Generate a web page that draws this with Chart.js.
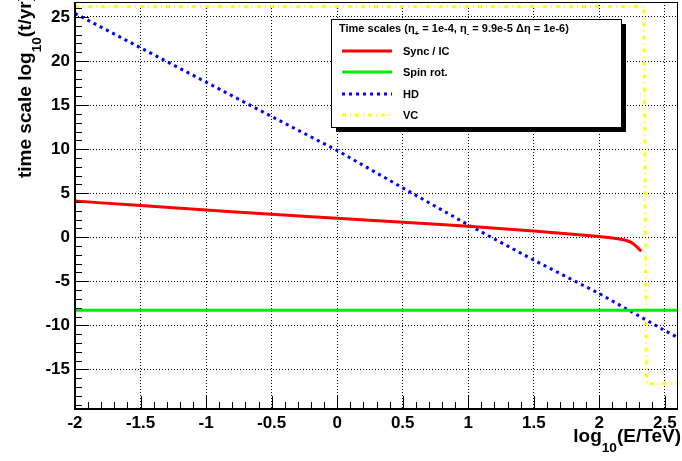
<!DOCTYPE html>
<html>
<head>
<meta charset="utf-8">
<script src="https://cdn.jsdelivr.net/npm/chart.js@4.4.0/dist/chart.umd.min.js"></script>
<style>
  html, body { margin: 0; padding: 0; background: #fff; }
</style>
</head>
<body>
<canvas id="timeChart" width="682" height="461"></canvas>
<script>
// x: log10(E/TeV), y: log10(t/yr)
const syncE = [-2, -1.5, -1, -0.5, 0, 0.5, 1, 1.5, 1.75, 2, 2.1, 2.2, 2.25, 2.29, 2.32];
const syncT = [4.1, 3.6, 3.1, 2.6, 2.15, 1.7, 1.25, 0.7, 0.4, 0.07, -0.08, -0.35, -0.65, -1.15, -1.6];

const spinE = [-2, 2.6];
const spinT = [-8.3, -8.3];

const hdE = [-2, -1.5, -1, -0.5, 0, 0.5, 1, 1.5, 2, 2.5, 2.6];
const hdT = [25.4, 21.5, 17.6, 13.7, 9.85, 5.6, 1.4, -2.6, -6.4, -10.6, -11.4];

const vcE = [-2, 2.34, 2.36, 2.6];
const vcT = [26.2, 26.2, -16.6, -16.6];

const seriesNames = ['Sync / IC', 'Spin rot.', 'HD', 'VC'];
const xTicks = [-2, -1.5, -1, -0.5, 0, 0.5, 1, 1.5, 2, 2.5];
const yTicks = [-15, -10, -5, 0, 5, 10, 15, 20, 25];

const FONT = '"Liberation Sans", Arial, sans-serif';
Chart.defaults.font.family = FONT;

const toPoints = (xs, ys) => xs.map((x, i) => ({ x: x, y: ys[i] }));

// text with subscript pieces
const richWidth = (ctx, parts, size) => {
  let w = 0;
  parts.forEach(([t, sub]) => {
    ctx.font = `bold ${sub ? size * 0.72 : size}px ${FONT}`;
    w += ctx.measureText(t).width;
  });
  return w;
};
const drawRich = (ctx, parts, x, y, size, drop) => {
  let cx = x;
  parts.forEach(([t, sub]) => {
    ctx.font = `bold ${sub ? size * 0.72 : size}px ${FONT}`;
    ctx.fillText(t, cx, sub ? y + size * (drop || 0.38) : y);
    cx += ctx.measureText(t).width;
  });
};

const rootStyle = {
  id: 'rootStyle',
  afterDraw(chart) {
    const { ctx, chartArea: a } = chart;
    const xs = chart.scales.x, ys = chart.scales.y;
    ctx.save();
    ctx.strokeStyle = '#000';
    ctx.fillStyle = '#000';

    // tick marks, drawn inside the frame
    ctx.lineWidth = 1;
    ctx.beginPath();
    for (let i = -20; i <= 26; i++) {
      const py = Math.round(ys.getPixelForValue(i)) + 0.5;
      if (py < a.top || py > a.bottom) continue;
      const len = i % 5 === 0 ? 14 : 7;
      ctx.moveTo(a.left, py); ctx.lineTo(a.left + len, py);
    }
    for (let i = -20; i <= 26; i++) {
      const px = Math.round(xs.getPixelForValue(i / 10)) + 0.5;
      if (px < a.left || px > a.right) continue;
      const len = i % 5 === 0 ? 13 : 7;
      ctx.moveTo(px, a.bottom); ctx.lineTo(px, a.bottom - len);
    }
    ctx.stroke();

    // frame
    ctx.lineWidth = 1;
    ctx.strokeRect(a.left + 0.5, a.top + 0.5, a.right - a.left - 1, a.bottom - a.top - 1);
    ctx.lineWidth = 2;
    ctx.beginPath();
    ctx.moveTo(a.left, a.top); ctx.lineTo(a.left, a.bottom); ctx.lineTo(a.right, a.bottom);
    ctx.stroke();

    // axis titles
    ctx.textBaseline = 'alphabetic';
    const xt = [['log'], ['10', true], ['(E/TeV)']];
    drawRich(ctx, xt, 681 - richWidth(ctx, xt, 19), 442, 19, 0.5);

    const yt = [['time scale log'], ['10', true], ['(t/yr)']];
    ctx.save();
    ctx.translate(31, 0);
    ctx.rotate(-Math.PI / 2);
    drawRich(ctx, yt, -178, 0, 19, 0.5);
    ctx.restore();

    // legend box
    const bx = 331, by = 19, bw = 290, bh = 108;
    ctx.fillRect(bx + 5, by + 5, bw, bh);
    ctx.fillStyle = '#fff';
    ctx.fillRect(bx, by, bw, bh);
    ctx.lineWidth = 1;
    ctx.strokeRect(bx + 0.5, by + 0.5, bw, bh);
    ctx.fillStyle = '#000';
    drawRich(ctx, [['Time scales (\u03b7'], ['+', true], [' = 1e-4, \u03b7'], ['-', true],
      [' = 9.9e-5 \u0394\u03b7 = 1e-6)']], 339, 32, 11);

    const rowY = [51, 72, 94, 115];
    chart.data.datasets.forEach((ds, i) => {
      ctx.beginPath();
      ctx.strokeStyle = ds.borderColor;
      ctx.lineWidth = ds.borderWidth;
      ctx.setLineDash(ds.borderDash || []);
      ctx.moveTo(342, rowY[i]); ctx.lineTo(392, rowY[i]);
      ctx.stroke();
      ctx.setLineDash([]);
      ctx.font = `bold 11px ${FONT}`;
      ctx.fillStyle = '#000';
      ctx.textBaseline = 'middle';
      ctx.fillText(ds.label, 403, rowY[i] + 1);
      ctx.textBaseline = 'alphabetic';
    });
    ctx.restore();
  }
};

const ctx = document.getElementById('timeChart').getContext('2d');
const timeChart = new Chart(ctx, {
  type: 'line',
  data: {
    datasets: [
      {
        label: seriesNames[0],
        data: toPoints(syncE, syncT),
        borderColor: '#ff0000',
        borderWidth: 3,
        cubicInterpolationMode: 'monotone'
      },
      {
        label: seriesNames[1],
        data: toPoints(spinE, spinT),
        borderColor: '#00ee00',
        borderWidth: 3
      },
      {
        label: seriesNames[2],
        data: toPoints(hdE, hdT),
        borderColor: '#0000ff',
        borderWidth: 3,
        borderDash: [3, 4]
      },
      {
        label: seriesNames[3],
        data: toPoints(vcE, vcT),
        borderColor: '#ffff00',
        borderWidth: 3,
        borderDash: [4, 4, 1, 4]
      }
    ]
  },
  options: {
    responsive: false,
    animation: false,
    devicePixelRatio: 1,
    layout: { padding: { top: 2, right: 4, left: 0, bottom: 0 } },
    elements: { point: { radius: 0 }, line: { tension: 0 } },
    plugins: { legend: { display: false }, tooltip: { enabled: false } },
    scales: {
      x: {
        type: 'linear',
        min: -2,
        max: 2.6,
        afterFit: (s) => { s.height = 52; s.paddingLeft = 0; s.paddingRight = 0; },
        afterBuildTicks: (s) => { s.ticks = xTicks.map(v => ({ value: v })); },
        grid: { color: '#000', lineWidth: 1, drawTicks: false },
        border: { display: false, dash: [1, 2] },
        ticks: {
          color: '#000',
          padding: 4,
          maxRotation: 0,
          font: { size: 17, weight: 'bold' },
          callback: (v) => String(Math.round(v * 10) / 10)
        }
      },
      y: {
        type: 'linear',
        min: -19.5,
        max: 26.7,
        afterFit: (s) => { s.width = 75; s.paddingTop = 0; s.paddingBottom = 0; },
        afterBuildTicks: (s) => { s.ticks = yTicks.map(v => ({ value: v })); },
        grid: { color: '#000', lineWidth: 1, drawTicks: false },
        border: { display: false, dash: [1, 2] },
        ticks: {
          color: '#000',
          padding: 5,
          font: { size: 17, weight: 'bold' },
          callback: (v) => String(v)
        }
      }
    }
  },
  plugins: [rootStyle]
});
</script>
</body>
</html>
